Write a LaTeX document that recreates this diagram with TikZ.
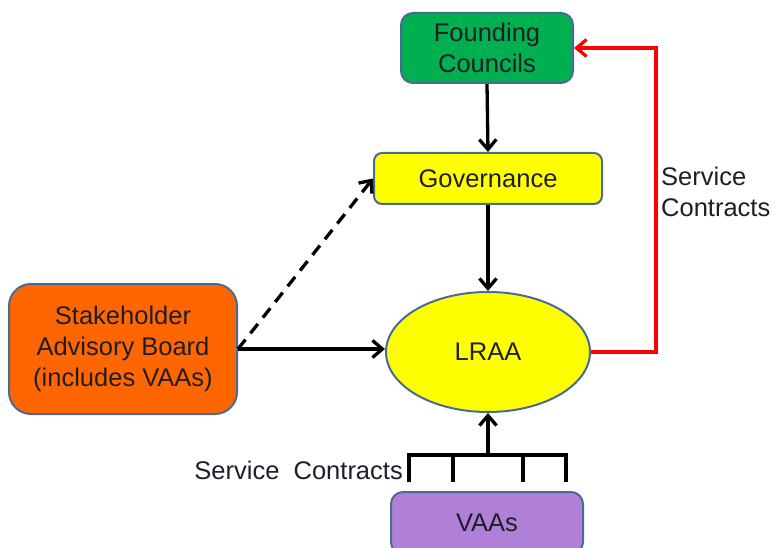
\documentclass[tikz,border=0pt]{standalone}
\usepackage{fontspec}
\setmainfont{Liberation Sans}
\usetikzlibrary{arrows.meta,shapes.geometric}
\definecolor{bord}{HTML}{4A6A96}
\definecolor{fgreen}{HTML}{00B050}
\definecolor{fyellow}{HTML}{FFFF00}
\definecolor{forange}{HTML}{FF6600}
\definecolor{fpurple}{HTML}{B07FD8}
\definecolor{txt}{HTML}{1E1E28}
\tikzset{
  box/.style={draw=bord, line width=2pt, inner sep=0pt, text=txt, align=center,
    font=\fontsize{25.5}{31}\selectfont},
  arr/.style={line width=3.3pt, -{Straight Barb[length=10pt,width=17pt,line width=3.3pt]}},
  lbl/.style={inner sep=0pt, text=txt, font=\fontsize{25.5}{31}\selectfont},
}
\begin{document}
\begin{tikzpicture}[x=1pt,y=-1pt]
\useasboundingbox (0,0) rectangle (776,548);
\node[box, fill=fgreen, rounded corners=12pt, minimum width=172pt, minimum height=70pt] (fc) at (487,48) {Founding\\Councils};
\node[box, fill=fyellow, rounded corners=8pt, minimum width=228pt, minimum height=51pt] (gov) at (488,178.5) {Governance};
\node[box, fill=fyellow, ellipse, minimum width=204pt, minimum height=120pt] (lraa) at (488,352) {LRAA};
\node[box, fill=forange, rounded corners=22pt, minimum width=228pt, minimum height=130pt] (sab) at (123,349) {Stakeholder\\Advisory\ Board\\(includes VAAs)};
\node[box, fill=fpurple, rounded corners=12pt, minimum width=192pt, minimum height=62pt] (vaa) at (487,523) {VAAs};

\draw[arr] (fc.south) -- (gov.north);
\draw[arr] (gov.south) -- (lraa.north);
\draw[arr] (sab.east) -- (sab.east -| lraa.west);
\draw[arr, dashed, dash pattern=on 12pt off 8pt] (sab.east) -- (gov.west);

\coordinate (redc) at (656,352);
\draw[red, line width=3.3pt, -{Straight Barb[length=10pt,width=17pt,line width=3.3pt]}] (lraa.east) -- (redc) |- (fc.east);
\node[lbl, anchor=west, align=left] (sc1) at (661,192) {Service\\Contracts};

\coordinate (c0) at (488,455);
\coordinate (t1) at (409,482);
\coordinate (t2) at (453,482);
\coordinate (t3) at (523,482);
\coordinate (t4) at (566,482);
\draw[line width=4pt] (t1) |- (c0) -| (t4);
\draw[line width=4pt] (t2) -- (t2 |- c0);
\draw[line width=4pt] (t3) -- (t3 |- c0);
\draw[arr] (c0) -- (lraa.south);
\node[lbl, anchor=east] (sc2) at (403,470) {Service\ \ Contracts};
\end{tikzpicture}
\end{document}
